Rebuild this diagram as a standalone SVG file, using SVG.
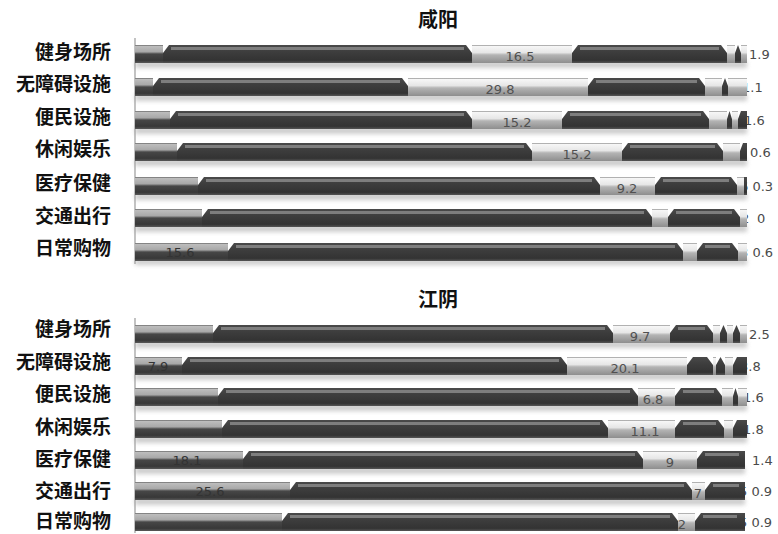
<svg xmlns="http://www.w3.org/2000/svg" width="778" height="534" viewBox="0 0 778 534">
<defs>
<linearGradient id="ga" x1="0" y1="0" x2="0" y2="1">
<stop offset="0" stop-color="#666"/><stop offset="0.08" stop-color="#bcbcbc"/><stop offset="0.38" stop-color="#a8a8a8"/><stop offset="0.5" stop-color="#474747"/><stop offset="0.85" stop-color="#383838"/><stop offset="1" stop-color="#585858"/>
</linearGradient>
<linearGradient id="gb" x1="0" y1="0" x2="0" y2="1">
<stop offset="0" stop-color="#4a4a4a"/><stop offset="0.35" stop-color="#3e3e3e"/><stop offset="0.85" stop-color="#333"/><stop offset="1" stop-color="#555"/>
</linearGradient>
<linearGradient id="gc" x1="0" y1="0" x2="0" y2="1">
<stop offset="0" stop-color="#8c8c8c"/><stop offset="0.08" stop-color="#f6f6f6"/><stop offset="0.42" stop-color="#e6e6e6"/><stop offset="0.55" stop-color="#b4b4b4"/><stop offset="1" stop-color="#8e8e8e"/>
</linearGradient>
<filter id="blur" x="-5%" y="-100%" width="110%" height="300%"><feGaussianBlur stdDeviation="2"/></filter>
</defs>
<style>
.a{fill:url(#ga)}
.b{fill:url(#gb)}
.c{fill:url(#gc)}
.hl{fill:#7e7e7e}
.sh{fill:#b8b8b8;filter:url(#blur);opacity:0.7}
.ax{stroke:#9a9a9a;stroke-width:1.2;fill:none}
.cat{font-family:"Noto Sans CJK SC","Noto Sans CJK JP",sans-serif;font-size:19px;font-weight:bold;fill:#111;text-anchor:end}
.ttl{font-family:"Noto Sans CJK SC","Noto Sans CJK JP",sans-serif;font-size:20px;font-weight:bold;fill:#111;text-anchor:middle}
.v{font-family:"DejaVu Sans",sans-serif;font-size:13px;fill:#505050;text-anchor:middle}
.o{font-family:"DejaVu Sans",sans-serif;font-size:13px;fill:#4a4a4a}
.d{font-family:"DejaVu Sans",sans-serif;font-size:13px;fill:#333;text-anchor:middle}
</style>
<rect width="778" height="534" fill="#fff"/>

<g id="titles">
<text class="ttl" x="438" y="27">咸阳</text>
<text class="ttl" x="438" y="307">江阴</text>
</g>

<g id="categories">
<text class="cat" x="111" y="59">健身场所</text>
<text class="cat" x="111" y="91">无障碍设施</text>
<text class="cat" x="111" y="124">便民设施</text>
<text class="cat" x="111" y="156">休闲娱乐</text>
<text class="cat" x="111" y="190">医疗保健</text>
<text class="cat" x="111" y="223">交通出行</text>
<text class="cat" x="111" y="255">日常购物</text>
<text class="cat" x="111" y="336">健身场所</text>
<text class="cat" x="111" y="369">无障碍设施</text>
<text class="cat" x="111" y="401">便民设施</text>
<text class="cat" x="111" y="434">休闲娱乐</text>
<text class="cat" x="111" y="466">医疗保健</text>
<text class="cat" x="111" y="498">交通出行</text>
<text class="cat" x="111" y="528">日常购物</text>
</g>

<g id="shadows">
<rect class="sh" x="135" y="61" width="612" height="7"/>
<rect class="sh" x="135" y="94" width="612" height="7"/>
<rect class="sh" x="135" y="127" width="612" height="7"/>
<rect class="sh" x="135" y="159" width="612" height="7"/>
<rect class="sh" x="135" y="193" width="612" height="7"/>
<rect class="sh" x="135" y="225" width="612" height="7"/>
<rect class="sh" x="135" y="259" width="612" height="6"/>
<rect class="sh" x="135" y="341" width="612" height="7"/>
<rect class="sh" x="135" y="373" width="612" height="7"/>
<rect class="sh" x="135" y="404" width="612" height="7"/>
<rect class="sh" x="135" y="436" width="612" height="7"/>
<rect class="sh" x="135" y="467" width="610" height="7"/>
<rect class="sh" x="135" y="498" width="610" height="7"/>
</g>

<g id="axes">
<line class="ax" x1="135" y1="38" x2="135" y2="264"/>
<line class="ax" x1="135" y1="318" x2="135" y2="533"/>
</g>

<g id="outside-labels">
<text class="o" x="749" y="59">1.9</text>
<text class="o" x="742" y="92">1.1</text>
<text class="o" x="744" y="125">1.6</text>
<text class="o" x="750" y="157">0.6</text>
<text class="o" x="740" y="191">6 0.3</text>
<text class="o" x="741" y="223">2<tspan x="757">0</tspan></text>
<text class="o" x="740" y="257">3 0.6</text>
<text class="o" x="749" y="339">2.5</text>
<text class="o" x="740" y="371">3.8</text>
<text class="o" x="743" y="402">1.6</text>
<text class="o" x="743" y="434">1.8</text>
<text class="o" x="752" y="465">1.4</text>
<text class="o" x="739" y="496">5 0.9</text>
<text class="o" x="739" y="527">5 0.9</text>
</g>

<g id="xy-jianshen">
<rect class="a" x="135" y="45" width="28" height="18"/>
<polygon class="b" points="163,63 163,53 169,45 466,45 472,53 472,63"/>
<rect class="hl" x="171" y="47" width="293" height="3"/>
<rect class="c" x="472" y="45" width="100" height="18"/>
<polygon class="b" points="572,63 572,53 578,45 721,45 727,53 727,63"/>
<rect class="hl" x="580" y="47" width="139" height="3"/>
<rect class="c" x="727" y="45" width="8" height="18"/>
<polygon class="b" points="735,63 735,53 738,45 741,53 741,63"/>
<rect class="c" x="741" y="45" width="6" height="18"/>
<text class="v" x="520" y="61">16.5</text>
</g>

<g id="xy-wuzhangai">
<rect class="a" x="135" y="78" width="18" height="18"/>
<polygon class="b" points="153,96 153,86 159,78 402,78 408,86 408,96"/>
<rect class="hl" x="161" y="80" width="239" height="3"/>
<rect class="c" x="408" y="78" width="180" height="18"/>
<polygon class="b" points="588,96 588,86 594,78 699,78 705,86 705,96"/>
<rect class="hl" x="596" y="80" width="101" height="3"/>
<rect class="c" x="705" y="78" width="17" height="18"/>
<polygon class="b" points="722,96 722,86 725,78 728,86 728,96"/>
<rect class="c" x="728" y="78" width="19" height="18"/>
<text class="v" x="500" y="94">29.8</text>
</g>

<g id="xy-bianmin">
<rect class="a" x="135" y="111" width="35" height="18"/>
<polygon class="b" points="170,129 170,119 176,111 466,111 472,119 472,129"/>
<rect class="hl" x="178" y="113" width="286" height="3"/>
<rect class="c" x="472" y="111" width="90" height="18"/>
<polygon class="b" points="562,129 562,119 568,111 703,111 709,119 709,129"/>
<rect class="hl" x="570" y="113" width="131" height="3"/>
<rect class="c" x="709" y="111" width="18" height="18"/>
<polygon class="b" points="727,129 727,119 729.5,111 732,119 732,129"/>
<rect class="c" x="732" y="111" width="6" height="18"/>
<polygon class="b" points="738,129 738,119 741,111 747,111 747,129"/>
<text class="v" x="517" y="127">15.2</text>
</g>

<g id="xy-xiuxian">
<rect class="a" x="135" y="143" width="42" height="18"/>
<polygon class="b" points="177,161 177,151 183,143 526,143 532,151 532,161"/>
<rect class="hl" x="185" y="145" width="339" height="3"/>
<rect class="c" x="532" y="143" width="90" height="18"/>
<polygon class="b" points="622,161 622,151 628,143 717,143 723,151 723,161"/>
<rect class="hl" x="630" y="145" width="85" height="3"/>
<rect class="c" x="723" y="143" width="17" height="18"/>
<polygon class="b" points="740,161 740,151 743,143 747,143 747,161"/>
<text class="v" x="577" y="159">15.2</text>
</g>

<g id="xy-yiliao">
<rect class="a" x="135" y="177" width="63" height="18"/>
<polygon class="b" points="198,195 198,185 204,177 594,177 600,185 600,195"/>
<rect class="hl" x="206" y="179" width="386" height="3"/>
<rect class="c" x="600" y="177" width="55" height="18"/>
<polygon class="b" points="655,195 655,185 661,177 731,177 737,185 737,195"/>
<rect class="hl" x="663" y="179" width="66" height="3"/>
<rect class="c" x="737" y="177" width="7" height="18"/>
<rect class="b" x="744" y="177" width="3" height="18"/>
<text class="v" x="627" y="193">9.2</text>
</g>

<g id="xy-jiaotong">
<rect class="a" x="135" y="209" width="67" height="18"/>
<polygon class="b" points="202,227 202,217 208,209 646,209 652,217 652,227"/>
<rect class="hl" x="210" y="211" width="434" height="3"/>
<rect class="c" x="652" y="209" width="16" height="18"/>
<polygon class="b" points="668,227 668,217 674,209 734,209 740,217 740,227"/>
<rect class="hl" x="676" y="211" width="56" height="3"/>
<rect class="c" x="740" y="209" width="7" height="18"/>
</g>

<g id="xy-richang">
<rect class="a" x="135" y="243" width="93" height="18"/>
<polygon class="b" points="228,261 228,251 234,243 677,243 683,251 683,261"/>
<rect class="hl" x="236" y="245" width="439" height="3"/>
<rect class="c" x="683" y="243" width="14" height="18"/>
<polygon class="b" points="697,261 697,251 703,243 732,243 738,251 738,261"/>
<rect class="hl" x="705" y="245" width="25" height="3"/>
<rect class="c" x="738" y="243" width="9" height="18"/>
<text class="d" x="180" y="257">15.6</text>
</g>

<g id="jy-jianshen">
<rect class="a" x="135" y="325" width="78" height="18"/>
<polygon class="b" points="213,343 213,333 219,325 607,325 613,333 613,343"/>
<rect class="hl" x="221" y="327" width="384" height="3"/>
<rect class="c" x="613" y="325" width="57" height="18"/>
<polygon class="b" points="670,343 670,333 676,325 707,325 713,333 713,343"/>
<rect class="hl" x="678" y="327" width="27" height="3"/>
<rect class="c" x="713" y="325" width="7" height="18"/>
<polygon class="b" points="720,343 720,333 723.5,325 727,333 727,343"/>
<rect class="c" x="727" y="325" width="6" height="18"/>
<polygon class="b" points="733,343 733,333 736.5,325 740,333 740,343"/>
<rect class="c" x="740" y="325" width="7" height="18"/>
<text class="v" x="640" y="341">9.7</text>
</g>

<g id="jy-wuzhangai">
<rect class="a" x="135" y="357" width="47" height="18"/>
<polygon class="b" points="182,375 182,365 188,357 561,357 567,365 567,375"/>
<rect class="hl" x="190" y="359" width="369" height="3"/>
<rect class="c" x="567" y="357" width="120" height="18"/>
<polygon class="b" points="687,375 687,365 693,357 707,357 713,365 713,375"/>
<rect class="c" x="713" y="357" width="3" height="18"/>
<polygon class="b" points="716,375 716,365 720.5,357 725,365 725,375"/>
<rect class="c" x="725" y="357" width="8" height="18"/>
<polygon class="b" points="733,375 733,365 737,357 747,357 747,375"/>
<text class="v" x="625" y="373">20.1</text>
<text class="d" x="158" y="371">7.9</text>
</g>

<g id="jy-bianmin">
<rect class="a" x="135" y="388" width="83" height="18"/>
<polygon class="b" points="218,406 218,396 224,388 632,388 638,396 638,406"/>
<rect class="hl" x="226" y="390" width="404" height="3"/>
<rect class="c" x="638" y="388" width="37" height="18"/>
<polygon class="b" points="675,406 675,396 681,388 716,388 722,396 722,406"/>
<rect class="hl" x="683" y="390" width="31" height="3"/>
<rect class="c" x="722" y="388" width="11" height="18"/>
<polygon class="b" points="733,406 733,396 735.5,388 738,396 738,406"/>
<rect class="c" x="738" y="388" width="9" height="18"/>
<text class="v" x="653" y="404">6.8</text>
</g>

<g id="jy-xiuxian">
<rect class="a" x="135" y="420" width="87" height="18"/>
<polygon class="b" points="222,438 222,428 228,420 602,420 608,428 608,438"/>
<rect class="hl" x="230" y="422" width="370" height="3"/>
<rect class="c" x="608" y="420" width="67" height="18"/>
<polygon class="b" points="675,438 675,428 681,420 718,420 724,428 724,438"/>
<rect class="hl" x="683" y="422" width="33" height="3"/>
<rect class="c" x="724" y="420" width="9" height="18"/>
<polygon class="b" points="733,438 733,428 737,420 747,420 747,438"/>
<text class="v" x="645" y="436">11.1</text>
</g>

<g id="jy-yiliao">
<rect class="a" x="135" y="451" width="108" height="18"/>
<polygon class="b" points="243,469 243,459 249,451 637,451 643,459 643,469"/>
<rect class="hl" x="251" y="453" width="384" height="3"/>
<rect class="c" x="643" y="451" width="54" height="18"/>
<polygon class="b" points="697,469 697,459 703,451 745,451 745,469"/>
<rect class="hl" x="705" y="453" width="34" height="3"/>
<text class="v" x="670" y="467">9</text>
<text class="d" x="187" y="465">18.1</text>
</g>

<g id="jy-jiaotong">
<rect class="a" x="135" y="482" width="155" height="18"/>
<polygon class="b" points="290,500 290,490 296,482 686,482 692,490 692,500"/>
<rect class="hl" x="298" y="484" width="386" height="3"/>
<rect class="c" x="692" y="482" width="13" height="18"/>
<polygon class="b" points="705,500 705,490 711,482 745,482 745,500"/>
<rect class="hl" x="713" y="484" width="26" height="3"/>
<text class="v" x="698" y="498">7</text>
<text class="d" x="210" y="496">25.6</text>
</g>

<g id="jy-richang">
<rect class="a" x="135" y="513" width="147" height="18"/>
<polygon class="b" points="282,531 282,521 288,513 672,513 678,521 678,531"/>
<rect class="hl" x="290" y="515" width="380" height="3"/>
<rect class="c" x="678" y="513" width="17" height="18"/>
<polygon class="b" points="695,531 695,521 701,513 745,513 745,531"/>
<rect class="hl" x="703" y="515" width="34" height="3"/>
<text class="v" x="682" y="529">2</text>
</g>
</svg>
